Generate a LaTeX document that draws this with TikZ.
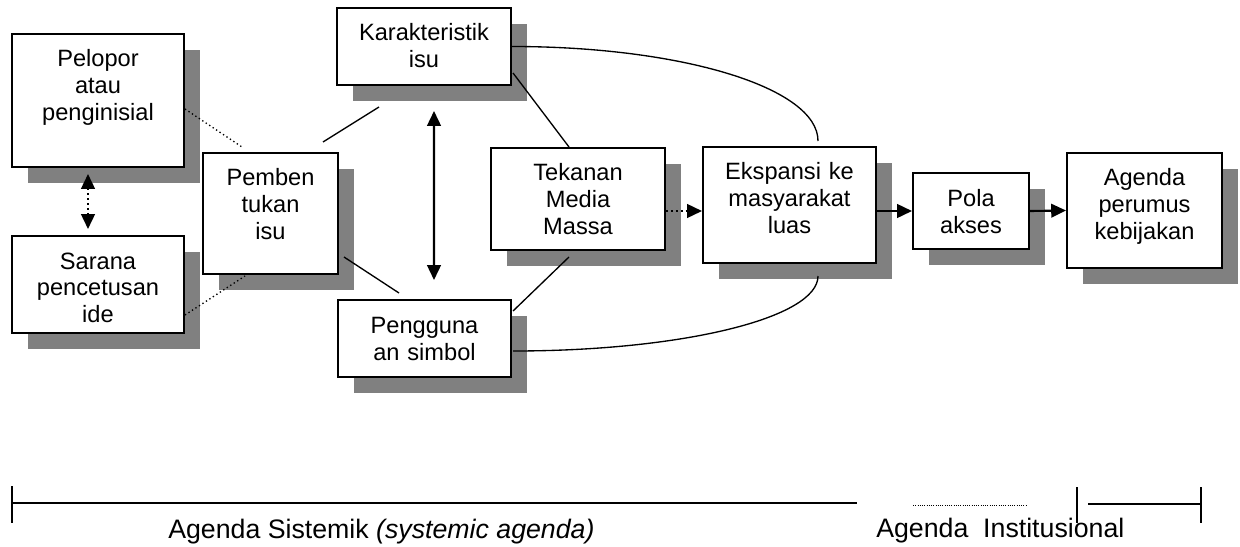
\documentclass[tikz,border=0pt]{standalone}
\usepackage{fontspec}
\setmainfont{Liberation Sans}
\usetikzlibrary{arrows.meta,shadows,calc}

\begin{document}
\begin{tikzpicture}[
    x=0.025cm, y=-0.025cm,
    font=\fontsize{16.8}{19.2}\selectfont,
    >={Triangle[length=0.37cm,width=0.34cm]},
    box/.style={
        draw=black,
        fill=white,
        line width=1.4pt,
        align=center,
        inner sep=0pt,
        text height=0.825cm,
        drop shadow={shadow xshift=0.4cm, shadow yshift=-0.4cm, fill=black!50, opacity=1}
    },
    dims/.style 2 args={text width=#1, text depth=#2},
    link/.style={line width=0.95pt},
    dotlink/.style={line width=0.95pt, dotted},
    flow/.style={->, line width=1.5pt},
    ruler/.style={line width=1.4pt},
    tick/.style={line width=0.9pt},
    scalelabel/.style={anchor=base west, inner sep=0pt, font=\fontsize{19}{22}\selectfont}
]

\useasboundingbox (0,0) rectangle (1240,546);

% Issue origins
\node[box, dims={4.3cm}{2.5cm}] (pel) at (98,100.5) {Pelopor\\ atau\\ penginisial};
\node[box, dims={4.3cm}{1.6cm}] (sar) at (98,284.5) {Sarana\\ pencetusan\\ ide};
\node[box, dims={3.375cm}{2.2cm}] (pem) at (270.5,213.5) {Pemben\\ tukan\\ isu};

% Issue content
\node[box, dims={4.35cm}{1.1cm}] (kar) at (424,46.5) {Karakteristik\\ isu};
\node[box, dims={4.325cm}{1.1cm}] (pen) at (424.5,338.5) {Pengguna\\ an simbol};
\node[box, dims={4.35cm}{1.725cm}] (tek) at (578,199) {Tekanan\\ Media\\ Massa};

% Expansion towards the policy agenda
\node[box, dims={4.325cm}{2.075cm}] (eks) at (789.5,205) {Ekspansi ke\\ masyarakat\\ luas};
\node[box, dims={2.9cm}{1.075cm}] (pol) at (971,211) {Pola\\ akses};
\node[box, dims={3.875cm}{2.05cm}] (age) at (1144.5,210.5) {Agenda\\ perumus\\ kebijakan};

% Connections
\draw[<->, dotted, line width=1.5pt] ($(pel.south)+(-10,6)$) -- ($(sar.north)+(-10,-6)$);
\draw[dotlink] ($(pel.east)+(0,8.5)$) -- ($(pem.north)+(-28.5,-5)$);
\draw[dotlink] ($(sar.south east)+(0,-19)$) -- ($(pem.south)+(-25.5,1)$);
\draw[link] ($(pem.north)+(52.5,-10)$) -- ($(kar.south west)+(43,21)$);
\draw[link] ($(pem.south east)+(5,-18)$) -- ($(pen.north west)+(62,-6)$);
\draw[<->, line width=1.5pt] ($(kar.south)+(10,25)$) -- ($(pen.north)+(9.5,-19)$);
\draw[link] ($(kar.south east)+(1,-13)$) -- ($(tek.north)+(-9,0)$);
\draw[link] ($(tek.south)+(-9,6)$) -- ($(pen.north east)+(1,12)$);
\draw[link] (kar.east) .. controls +(169,0) and +(0,-53.5) .. ($(eks.north)+(28.5,-5)$);
\draw[link] ($(pen.east)+(1,12.5)$) .. controls +(169,0) and +(0,42) .. ($(eks.south)+(28.5,12)$);
\draw[->, dotted, line width=1.5pt] ($(tek.east)+(0,12)$) -- ($(eks.west)+(0,6)$);
\draw[flow] (pol.west -| eks.east) -- (pol.west);
\draw[flow] (pol.east) -- (age.west);

% Agenda scale
\draw[ruler] (12,503) -- (857,503);
\draw[tick] (12,486) -- (12,523);
\draw[line width=0.7pt, dash pattern=on 0.7pt off 0.9pt] (913,505) -- (1026,505);
\draw[tick] (1077,487) -- (1077,523);
\draw[ruler] (1088,504) -- (1201,504);
\draw[tick] (1201,487) -- (1201,523);
\node[scalelabel] (sist) at (168,538) {Agenda Sistemik \textit{(systemic agenda)}};
\node[scalelabel] (inst) at (876,537) {Agenda\ \ Institusional};

\end{tikzpicture}
\end{document}
